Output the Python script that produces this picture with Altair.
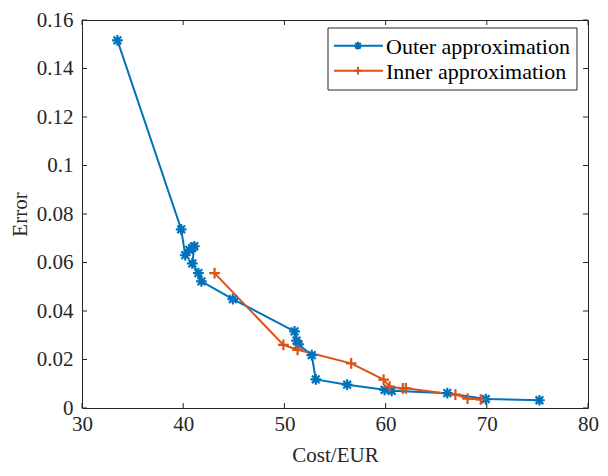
import altair as alt
import pandas as pd

# Outer approximation (Cost/EUR, Error)
outer_cost = [33.5, 39.8, 40.2, 40.6, 40.9, 41.1, 40.9, 41.5, 41.8, 44.9,
              51.0, 51.2, 51.4, 52.7, 53.1, 56.2, 59.9, 60.6, 66.1, 69.9, 75.2]
outer_err = [0.1516, 0.0737, 0.0630, 0.0652, 0.0660, 0.0667, 0.0596, 0.0556, 0.0522, 0.0449,
             0.0316, 0.0278, 0.0262, 0.0218, 0.0118, 0.0096, 0.0075, 0.0071, 0.0061, 0.0037, 0.0032]

# Inner approximation
inner_cost = [43.1, 49.9, 51.3, 56.6, 59.8, 60.4, 61.7, 62.0, 66.9, 68.1, 69.4]
inner_err = [0.0556, 0.0260, 0.0240, 0.0184, 0.0117, 0.0088, 0.0081, 0.0081, 0.0055, 0.0039, 0.0035]

series_names = ["Outer approximation", "Inner approximation"]
series_colors = ["#0072BD", "#D95319"]

x_ticks = [30, 40, 50, 60, 70, 80]
y_ticks = [0, 0.02, 0.04, 0.06, 0.08, 0.1, 0.12, 0.14, 0.16]

FONT = "Liberation Serif, Tinos, 'Times New Roman', Times, 'DejaVu Serif', serif"
FS = 21
AX = "#262626"
W, H = 506, 388

rows = []
for i, (c, e) in enumerate(zip(outer_cost, outer_err)):
    rows.append({"series": series_names[0], "cost": c, "err": e, "idx": i})
for i, (c, e) in enumerate(zip(inner_cost, inner_err)):
    rows.append({"series": series_names[1], "cost": c, "err": e, "idx": i})
df = pd.DataFrame(rows)

ASTER = "M-1,0L1,0M0,-1L0,1M-0.72,-0.72L0.72,0.72M-0.72,0.72L0.72,-0.72"
PLUS = "M-1,0L1,0M0,-1L0,1"

xs = alt.Scale(domain=[30, 80], nice=False, zero=False)
ys = alt.Scale(domain=[0, 0.16], nice=False, zero=False)
cs = alt.Scale(domain=series_names, range=series_colors)
ss = alt.Scale(domain=series_names, range=[ASTER, PLUS])

base = alt.Chart(df)

lines = base.mark_line(strokeWidth=2).encode(
    x=alt.X("cost:Q", scale=xs,
            axis=alt.Axis(values=x_ticks, title="Cost/EUR", grid=False, domain=False, ticks=False,
                          labelFont=FONT, labelFontSize=FS, labelColor=AX, labelPadding=5,
                          labelFlush=False, labelOverlap=False,
                          titleFont=FONT, titleFontSize=FS, titleColor=AX, titleFontWeight="normal",
                          titleY=47, titleBaseline="middle")),
    y=alt.Y("err:Q", scale=ys,
            axis=alt.Axis(values=y_ticks, title="Error", grid=False, domain=False, ticks=False,
                          labelFont=FONT, labelFontSize=FS, labelColor=AX, labelPadding=9,
                          labelFlush=False, labelOverlap=False,
                          labelExpr="datum.value == 0 ? '0' : format(datum.value, '.2~f')",
                          titleFont=FONT, titleFontSize=FS, titleColor=AX, titleFontWeight="normal",
                          titleAngle=-90, titleX=-62, titleY=H / 2, titleBaseline="middle",
                          titleAlign="center")),
    color=alt.Color("series:N", scale=cs, legend=None),
    detail="series:N",
    order="idx:Q",
)

points = base.mark_point(filled=False, strokeWidth=2.2, size=115, opacity=1).encode(
    x=alt.X("cost:Q", scale=xs),
    y=alt.Y("err:Q", scale=ys),
    color=alt.Color("series:N", scale=cs, legend=None),
    shape=alt.Shape("series:N", scale=ss, legend=None),
)

xt = pd.DataFrame({"v": x_ticks})
yt = pd.DataFrame({"v": y_ticks})
tick_bottom = alt.Chart(xt).mark_rule(color=AX, strokeWidth=1).encode(
    x=alt.X("v:Q", scale=xs), y=alt.value(H), y2=alt.value(H - 5))
tick_top = alt.Chart(xt).mark_rule(color=AX, strokeWidth=1).encode(
    x=alt.X("v:Q", scale=xs), y=alt.value(0), y2=alt.value(5))
tick_left = alt.Chart(yt).mark_rule(color=AX, strokeWidth=1).encode(
    y=alt.Y("v:Q", scale=ys), x=alt.value(0), x2=alt.value(5))
tick_right = alt.Chart(yt).mark_rule(color=AX, strokeWidth=1).encode(
    y=alt.Y("v:Q", scale=ys), x=alt.value(W), x2=alt.value(W - 5))

# legend
leg = pd.DataFrame({"series": series_names, "ypos": [25.7, 50.7]})
one = pd.DataFrame({"a": [1]})
leg_box = alt.Chart(one).mark_rect(fill="white", stroke=AX, strokeWidth=1).encode(
    x=alt.value(W - 11 - 249), x2=alt.value(W - 11), y=alt.value(8), y2=alt.value(70))
leg_lines = alt.Chart(leg).mark_rule(strokeWidth=2).encode(
    x=alt.value(W - 11 - 243), x2=alt.value(W - 11 - 194), y=alt.Y("ypos:Q", scale=None),
    color=alt.Color("series:N", scale=cs, legend=None))
leg_pts = alt.Chart(leg).mark_point(filled=False, strokeWidth=2, size=60, opacity=1).encode(
    x=alt.value(W - 11 - 219), y=alt.Y("ypos:Q", scale=None),
    color=alt.Color("series:N", scale=cs, legend=None),
    shape=alt.Shape("series:N", scale=ss, legend=None))
leg_text = alt.Chart(leg).mark_text(font=FONT, fontSize=22, color="#000000", align="left",
                                    baseline="middle", dy=1).encode(
    x=alt.value(W - 11 - 191), y=alt.Y("ypos:Q", scale=None), text="series:N")

chart = alt.layer(
    lines, points, tick_bottom, tick_top, tick_left, tick_right,
    leg_box, leg_lines, leg_pts, leg_text,
).properties(
    width=W, height=H,
    autosize=alt.AutoSizeParams(type="none"),
    padding={"left": 74, "top": 12, "right": 12, "bottom": 60},
    background="white",
).configure_view(stroke=AX, strokeWidth=1)

chart.save("out.html", embed_options={"renderer": "svg", "actions": False})
